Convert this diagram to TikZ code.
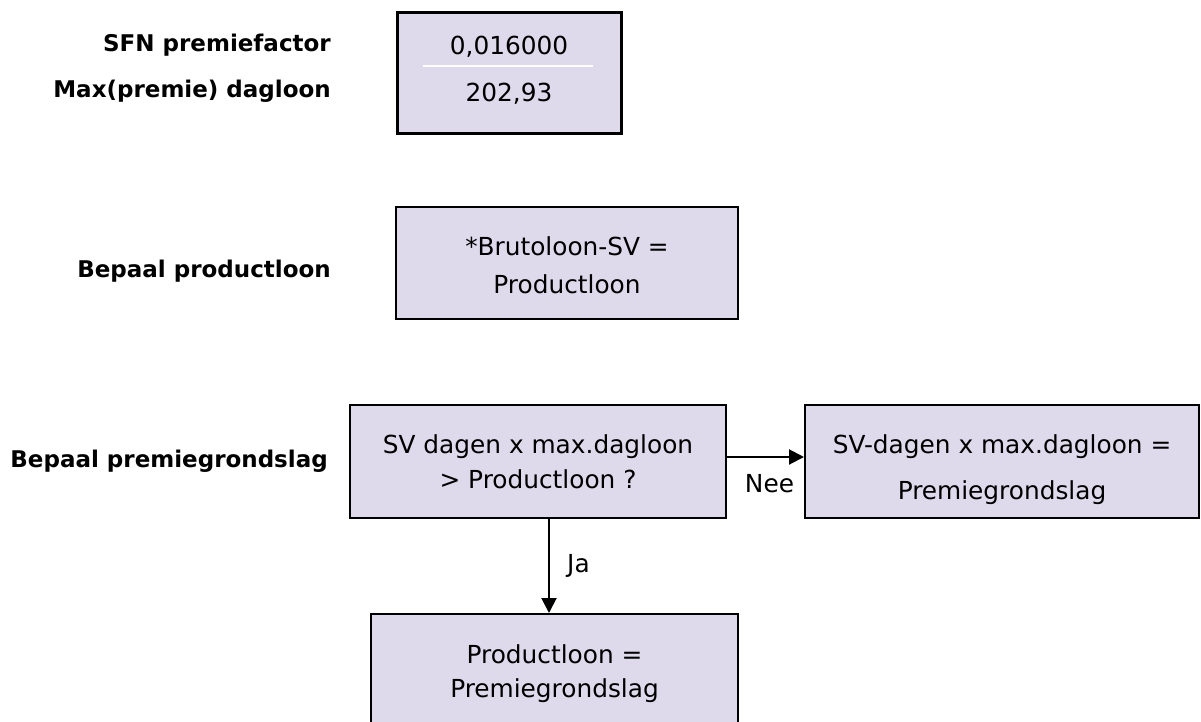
\documentclass[tikz,border=0pt]{standalone}
\usepackage{fontspec}
\setmainfont{DejaVu Sans}
\usetikzlibrary{arrows.meta}
\definecolor{boxfill}{RGB}{222,218,236}
\begin{document}
\begin{tikzpicture}[x=1pt,y=-1pt,
  box/.style={draw=black, line width=2pt, fill=boxfill, rectangle, inner sep=0pt},
  txt/.style={anchor=base, font=\fontsize{24.8}{30}\selectfont, inner sep=0pt},
  lbl/.style={anchor=base east, font=\fontsize{23}{30}\selectfont\bfseries, inner sep=0pt},
  arr/.style={line width=2pt, -{Triangle[length=15pt,width=15pt]}},
]
\useasboundingbox (0,0) rectangle (1201,722);
% boxes
\node[box, line width=3pt, minimum width=224, minimum height=121] (b1) at (509,73.5) {};
\node[box, minimum width=342, minimum height=112] (b2) at (567,263) {};
\node[box, minimum width=376, minimum height=113] (b3) at (538,461.5) {};
\node[box, minimum width=394, minimum height=113] (b4) at (1002,461.5) {};
\node[box, minimum width=367, minimum height=118] (b5) at (554.5,673) {};
% separator in box 1
\draw[white, line width=2pt] (423,66) -- (593,66);
% box texts
\node[txt] (v1) at (509,55) {0,016000};
\node[txt] (v2) at (509,101.7) {202,93};
\node[txt] (t2a) at (567,255) {*Brutoloon-SV =};
\node[txt] (t2b) at (567,293) {Productloon};
\node[txt] (t3a) at (538,453) {SV dagen x max.dagloon};
\node[txt] (t3b) at (538,488) {> Productloon ?};
\node[txt] (t4a) at (1002,453) {SV-dagen x max.dagloon =};
\node[txt] (t4b) at (1002,499) {Premiegrondslag};
\node[txt] (t5a) at (554.5,663) {Productloon =};
\node[txt] (t5b) at (554.5,697) {Premiegrondslag};
% labels
\node[lbl] (l1) at (331,52) {SFN premiefactor};
\node[lbl] (l2) at (331,98) {Max(premie) dagloon};
\node[lbl] (l3) at (331,277) {Bepaal productloon};
\node[lbl] (l4) at (328,467) {Bepaal premiegrondslag};
% connectors
\draw[arr] ([yshift=4.5pt]b3.east) -- ([yshift=4.5pt]b4.west);
\draw[arr] ([xshift=11pt]b3.south) -- ([xshift=11pt]b3.south |- b5.north);
\node[txt] (nee) at (769.5,492) {Nee};
\node[txt, anchor=base west] (ja) at (567,572) {Ja};
\end{tikzpicture}
\end{document}
